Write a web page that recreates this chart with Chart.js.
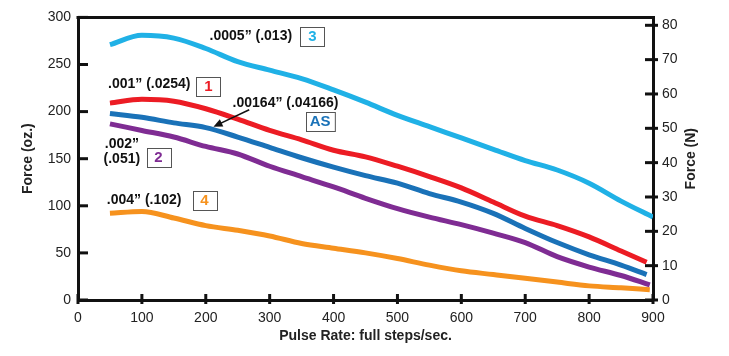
<!DOCTYPE html>
<html>
<head>
<meta charset="utf-8">
<script src="https://cdn.jsdelivr.net/npm/chart.js@4"></script>
<style>
html,body{margin:0;padding:0;background:#fff;}
#c{display:block;}
</style>
</head>
<body>
<canvas id="c" width="729" height="356"></canvas>
<script>
// ---- Data ----
const rate0005 = [50,100,150,200,250,300,350,400,450,500,550,600,650,700,750,800,850,900];
const force0005 = [271,281,278,267,253,244,235,223,210,196,184,172,160,148,138,124,105,88];

const rate001 = [50,100,150,200,250,300,350,400,450,500,550,600,650,700,750,800,850,890];
const force001 = [209,213,211,203,192,180,170,159,152,142,131,119,104,89,79,67,52,40];

const rate00164 = [50,100,150,200,250,300,350,400,450,500,550,600,650,700,750,800,850,890];
const force00164 = [198,194,188,183,173,162,151,141,132,124,113,104,92,76,61,48,37,27];

const rate002 = [50,100,150,200,250,300,350,400,450,500,550,600,650,700,750,800,850,895];
const force002 = [187,180,173,163,155,142,131,120,108,97,88,80,71,61,46,35,26,16];

const rate004 = [50,100,150,200,250,300,350,400,450,500,550,600,650,700,750,800,850,895];
const force004 = [92,94,87,79,74,68,60,55,50,44,37,31,27,23,19,15,13,11];

const xTicksStep = 100;          // Pulse Rate ticks: 0..900
const leftTicksStep = 50;        // Force (oz.) ticks: 0..300
const rightTicksStep = 10;       // Force (N) ticks: 0..80

const xMax = 900;
const leftMax = 300;
const rightMax = 82.3;

// Annotation labels (data coordinates: x = pulse rate, y = force oz.)
const labelTexts = [
  {text: '.0005\u201D (.013)', x: 206, y: 280},
  {text: '.001\u201D (.0254)', x: 47, y: 229},
  {text: '.00164\u201D (.04166)', x: 242, y: 209},
  {text: '.002\u201D', x: 42, y: 165},
  {text: '(.051)', x: 40, y: 150},
  {text: '.004\u201D (.102)', x: 45, y: 106}
];
const boxLabels = [
  {text: '3', color: '#20b1e6', x: 367, y: 280},
  {text: '1', color: '#ec1c24', x: 204, y: 227},
  {text: 'AS', color: '#1a72b8', x: 379, y: 190},
  {text: '2', color: '#7f2c93', x: 126, y: 151.5},
  {text: '4', color: '#f6921e', x: 198, y: 106}
];
const arrowFrom = {x: 268, y: 202};
const arrowTo = {x: 212, y: 184};

function pts(xs, ys){ return xs.map((x,i)=>({x:x, y:ys[i]})); }

const FONT = "'Liberation Sans', Arial, Helvetica, sans-serif";

const lineDefaults = {borderWidth: 5, pointRadius: 0, tension: 0.4, cubicInterpolationMode: 'monotone', fill: false, borderCapStyle: 'butt', yAxisID: 'y'};

const decor = {
  id: 'decor',
  afterDraw(chart){
    const ctx = chart.ctx;
    const xs = chart.scales.x, ys = chart.scales.y, yr = chart.scales.y2;
    const ca = chart.chartArea;
    ctx.save();
    ctx.strokeStyle = '#111';
    ctx.lineWidth = 3;
    // top frame
    ctx.beginPath();
    ctx.moveTo(ca.left - 1.5, ca.top);
    ctx.lineTo(ca.right + 1.5, ca.top);
    ctx.stroke();
    // left ticks (inside)
    ys.ticks.forEach(t => {
      const p = ys.getPixelForValue(t.value);
      ctx.beginPath(); ctx.moveTo(ca.left, p); ctx.lineTo(ca.left + 10, p); ctx.stroke();
    });
    // right ticks (crossing)
    yr.ticks.forEach(t => {
      const p = yr.getPixelForValue(t.value);
      ctx.beginPath(); ctx.moveTo(ca.right - 8, p); ctx.lineTo(ca.right + 5, p); ctx.stroke();
    });
    // x ticks (crossing)
    xs.ticks.forEach(t => {
      const p = xs.getPixelForValue(t.value);
      ctx.beginPath(); ctx.moveTo(p, ca.bottom - 6); ctx.lineTo(p, ca.bottom + 4); ctx.stroke();
    });
    // right axis title (reads bottom to top)
    ctx.save();
    ctx.translate(ca.right + 38, (ca.top + ca.bottom) / 2);
    ctx.rotate(-Math.PI / 2);
    ctx.fillStyle = '#222';
    ctx.font = 'bold 14px ' + FONT;
    ctx.textAlign = 'center';
    ctx.textBaseline = 'middle';
    ctx.fillText('Force (N)', 0, 0);
    ctx.restore();
    // annotation labels
    ctx.fillStyle = '#111';
    ctx.font = 'bold 14px ' + FONT;
    ctx.textAlign = 'left';
    ctx.textBaseline = 'middle';
    labelTexts.forEach(l => {
      ctx.fillText(l.text, xs.getPixelForValue(l.x), ys.getPixelForValue(l.y));
    });
    // boxes
    boxLabels.forEach(b => {
      const cx = xs.getPixelForValue(b.x), cy = ys.getPixelForValue(b.y);
      ctx.font = 'bold 15px ' + FONT;
      const w = Math.max(24, ctx.measureText(b.text).width + 8), h = 19;
      ctx.lineWidth = 1;
      ctx.strokeStyle = '#555';
      ctx.strokeRect(Math.round(cx - w/2) + 0.5, Math.round(cy - h/2) + 0.5, w, h);
      ctx.fillStyle = b.color;
      ctx.textAlign = 'center';
      ctx.fillText(b.text, cx, cy + 1);
    });
    // arrow
    const ax0 = xs.getPixelForValue(arrowFrom.x), ay0 = ys.getPixelForValue(arrowFrom.y);
    const ax1 = xs.getPixelForValue(arrowTo.x), ay1 = ys.getPixelForValue(arrowTo.y);
    ctx.strokeStyle = '#111'; ctx.fillStyle = '#111'; ctx.lineWidth = 1.5;
    const ang = Math.atan2(ay1 - ay0, ax1 - ax0);
    ctx.beginPath(); ctx.moveTo(ax0, ay0); ctx.lineTo(ax1 - 6*Math.cos(ang), ay1 - 6*Math.sin(ang)); ctx.stroke();
    ctx.beginPath();
    ctx.moveTo(ax1, ay1);
    ctx.lineTo(ax1 - 9*Math.cos(ang) + 4*Math.sin(ang), ay1 - 9*Math.sin(ang) - 4*Math.cos(ang));
    ctx.lineTo(ax1 - 9*Math.cos(ang) - 4*Math.sin(ang), ay1 - 9*Math.sin(ang) + 4*Math.cos(ang));
    ctx.closePath(); ctx.fill();
    ctx.restore();
  }
};

new Chart(document.getElementById('c'), {
  type: 'line',
  data: {
    datasets: [
      Object.assign({label: '.0005" (.013)', data: pts(rate0005, force0005), borderColor: '#20b1e6'}, lineDefaults),
      Object.assign({label: '.001" (.0254)', data: pts(rate001, force001), borderColor: '#ec1c24'}, lineDefaults),
      Object.assign({label: '.00164" (.04166)', data: pts(rate00164, force00164), borderColor: '#1a72b8'}, lineDefaults),
      Object.assign({label: '.002" (.051)', data: pts(rate002, force002), borderColor: '#7f2c93'}, lineDefaults),
      Object.assign({label: '.004" (.102)', data: pts(rate004, force004), borderColor: '#f6921e'}, lineDefaults)
    ]
  },
  options: {
    responsive: false,
    animation: false,
    devicePixelRatio: 1,
    layout: {padding: {top: 12, left: 0, right: 0, bottom: 0}},
    plugins: {legend: {display: false}, tooltip: {enabled: false}},
    scales: {
      x: {
        type: 'linear', min: 0, max: xMax,
        ticks: {stepSize: xTicksStep, color: '#222', font: {family: FONT, size: 14}, padding: 10, maxRotation: 0},
        grid: {drawOnChartArea: false, drawTicks: false, color: 'rgba(0,0,0,0)'},
        border: {display: true, color: '#111', width: 3},
        title: {display: true, text: 'Pulse Rate: full steps/sec.', color: '#222', font: {family: FONT, size: 14, weight: 'bold'}, padding: {top: 2, bottom: 11}},
        afterFit(s){ s.height = 56; }
      },
      y: {
        type: 'linear', position: 'left', min: 0, max: leftMax,
        ticks: {stepSize: leftTicksStep, color: '#222', font: {family: FONT, size: 14}, padding: 7},
        grid: {drawOnChartArea: false, drawTicks: false, color: 'rgba(0,0,0,0)'},
        border: {display: true, color: '#111', width: 3},
        title: {display: true, text: 'Force (oz.)', color: '#222', font: {family: FONT, size: 14, weight: 'bold'}, padding: {top: 20, bottom: 0}},
        afterFit(s){ s.width = 78; }
      },
      y2: {
        type: 'linear', position: 'right', min: 0, max: rightMax,
        ticks: {stepSize: rightTicksStep, includeBounds: false, color: '#222', font: {family: FONT, size: 14}, padding: 9},
        afterBuildTicks(s){ s.ticks = s.ticks.filter(t => Math.abs(Math.round(t.value / rightTicksStep) * rightTicksStep - t.value) < 1e-6); },
        grid: {drawOnChartArea: false, drawTicks: false, color: 'rgba(0,0,0,0)'},
        border: {display: true, color: '#111', width: 3},
        afterFit(s){ s.width = 76; }
      }
    }
  },
  plugins: [decor]
});
</script>
</body>
</html>
